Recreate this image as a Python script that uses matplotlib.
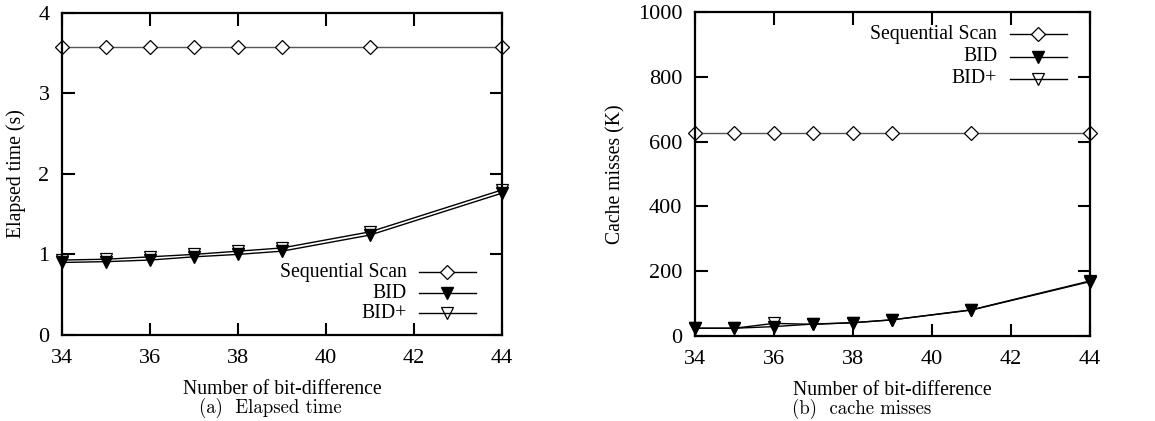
import matplotlib
matplotlib.use('Agg')
import matplotlib.pyplot as plt

plt.rcParams['font.family'] = ['Liberation Serif', 'DejaVu Serif']

bitDiff = [34, 35, 36, 37, 38, 39, 41, 44]

# (a) elapsed time in seconds
timeSeq = [3.57, 3.57, 3.57, 3.57, 3.57, 3.57, 3.57, 3.57]
timeBid = [0.90, 0.91, 0.93, 0.97, 1.00, 1.04, 1.24, 1.76]
timeBidPlus = [0.93, 0.94, 0.97, 1.00, 1.04, 1.08, 1.28, 1.80]

# (b) cache misses in thousands
missSeq = [626, 626, 626, 626, 626, 626, 626, 626]
missBid = [24, 24, 29, 37, 41, 50, 80, 168]
missBidPlus = [24, 24, 39, 36, 41, 50, 81, 170]

labels = ['Sequential Scan', 'BID', 'BID+']

# line / marker style per series (gnuplot-like)
styles = [
    dict(color='#555555', lw=1.0, marker='D', ms=7, mfc='white', mec='black', mew=0.9),
    dict(color='black', lw=1.0, marker='v', ms=9, mfc='black', mec='black'),
    dict(color='black', lw=1.0, marker='v', ms=9, mfc='none', mec='black', mew=0.9),
]


def drawLegend(ax, xText, xLine0, xLine1, rows):
    # gnuplot style key: right-aligned text, sample line with marker on the right
    for lbl, st, yy in zip(labels, styles, rows):
        ax.text(xText, yy, lbl, transform=ax.transAxes, ha='right', va='center',
                fontsize=14.2)
        ax.plot([xLine0, xLine1], [yy, yy], transform=ax.transAxes, color='black',
                lw=1.0, clip_on=False)
        mst = dict(st)
        mst.pop('lw')
        mst.pop('color')
        ax.plot([(xLine0 + xLine1) / 2], [yy], transform=ax.transAxes, ls='none',
                clip_on=False, **mst)


def drawPanel(ax, ySeq, yBid, yBidPlus, ymax, yticks, ylabel):
    for yy, st, zz in zip([ySeq, yBid, yBidPlus], styles, [2, 4, 3]):
        ax.plot(bitDiff, yy, zorder=zz, clip_on=False, **st)
    ax.set_xlim(34, 44)
    ax.set_ylim(0, ymax)
    ax.set_xticks([34, 36, 38, 40, 42, 44])
    ax.set_yticks(yticks)
    ax.tick_params(direction='in', length=9, width=1.5, top=True, right=True,
                   labelsize=16)
    ax.tick_params(axis='x', pad=10)
    ax.tick_params(axis='y', pad=9)
    for sp in ax.spines.values():
        sp.set_linewidth(1.6)
    ax.set_xlabel('Number of bit-difference', fontsize=14.2, labelpad=9)
    ax.set_ylabel(ylabel, fontsize=14.2, labelpad=9)


fig = plt.figure(figsize=(11.55, 4.21), dpi=100)
axA = fig.add_axes([0.0537, 0.2043, 0.3809, 0.7657])
axB = fig.add_axes([0.6017, 0.2019, 0.3420, 0.7691])

drawPanel(axA, timeSeq, timeBid, timeBidPlus, 4, [0, 1, 2, 3, 4], 'Elapsed time (s)')
drawPanel(axB, missSeq, missBid, missBidPlus, 1000, [0, 200, 400, 600, 800, 1000],
          'Cache misses (K)')

drawLegend(axA, 0.784, 0.811, 0.941, [0.195, 0.130, 0.068])
drawLegend(axB, 0.765, 0.797, 0.942, [0.932, 0.863, 0.794])

fig.text(270 / 1155, 1 - 408 / 421, '(a)  Elapsed time', family='cmr10',
         fontsize=13.5, ha='center', va='center')
fig.text(862 / 1155, 1 - 409 / 421, '(b)  cache misses', family='cmr10',
         fontsize=13.5, ha='center', va='center')

fig.savefig('out.png', dpi=100)
